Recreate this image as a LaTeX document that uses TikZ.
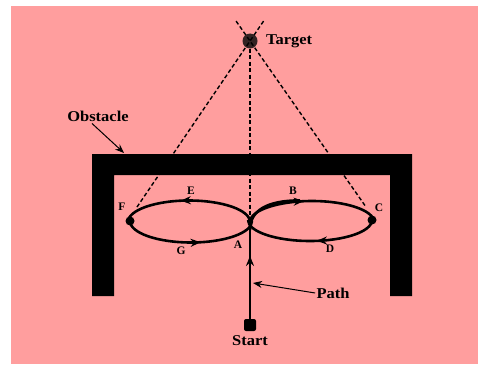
\documentclass[tikz,border=0pt]{standalone}
\usepackage{fontspec}
\setmainfont{Liberation Serif}
\usetikzlibrary{positioning,arrows.meta,decorations.markings,calc}
\definecolor{bgpink}{RGB}{255,158,158}
\definecolor{dotdark}{RGB}{50,35,35}

\begin{document}
\begin{tikzpicture}[x=1pt,y=1pt,
        lbl/.style={font=\fontsize{15}{17}\selectfont\bfseries, inner sep=1pt, xscale=1.1},
        ptlbl/.style={font=\fontsize{11.5}{13}\selectfont\bfseries, inner sep=1pt},
        sight/.style={dash pattern=on 4pt off 2.5pt, line width=1.4pt},
        route/.style={line width=2.6pt},
        pointer/.style={-{Stealth[length=9pt,width=7pt]}, line width=1pt},
        midarrow/.style={decoration={markings, mark=at position #1 with {\arrow{Stealth[length=10pt,width=8pt]}}}, postaction=decorate}
    ]
        % background
        \fill[white] (0,0) rectangle (478,365);
        \fill[bgpink] (11,1) rectangle (478,359);
        \useasboundingbox (0,0) rectangle (478,365);

        % obstacle
        \fill[black] (92,69) -- (92,211) -- (412,211) -- (412,69) -- (390,69)
            -- (390,190) -- (114,190) -- (114,69) -- cycle;

        % points
        \node[circle, fill=dotdark, minimum size=15pt, inner sep=0pt] (target) at (250,324) {};
        \node[lbl, right=7pt of target] (tlbl) {Target};
        \node[circle, fill=black, minimum size=9pt, inner sep=0pt] (fdot) at (130,144) {};
        \node[circle, fill=black, minimum size=9pt, inner sep=0pt] (cdot) at (372,145) {};
        \node[rectangle, rounded corners=2pt, fill=black, minimum size=12pt, inner sep=0pt] (start) at (250,40) {};
        \node[lbl, below=3pt of start] (slbl) {Start};
        \coordinate (apt) at (250,143);
        \coordinate (ftip) at (137,158);
        \coordinate (ctip) at (366,158);
        \coordinate (atip) at (250,147);

        % lines of sight
        \draw[sight] ($(ftip)!1.12!(target)$) -- (ftip);
        \draw[sight] ($(ctip)!1.12!(target)$) -- (ctip);
        \draw[sight] (target) -- (atip);

        % figure-eight path
        \draw[route, midarrow=0.56] (apt) arc[start angle=0, end angle=180, x radius=61, y radius=21.5];
        \draw[route, midarrow=0.57] (fdot.center) arc[start angle=180, end angle=360, x radius=61, y radius=21.5];
        \draw[route, midarrow=0.44] (apt) arc[start angle=180, end angle=0, x radius=62, y radius=21];
        \draw[route, midarrow=0.45] (cdot.center) arc[start angle=360, end angle=180, x radius=62, y radius=21];
        \draw[route, midarrow=0.7] (start) -- (250,136);
        \draw[route] (250,135) .. controls (250,154) and (266,164.6) .. (300,164.6);

        % point labels
        \node[ptlbl] (e) at (191,174) {E};
        \node[ptlbl] (b) at (293,174) {B};
        \node[ptlbl] (f) at (122,158) {F};
        \node[ptlbl] (c) at (379,157) {C};
        \node[ptlbl] (g) at (181,114) {G};
        \node[ptlbl] (a) at (238,120) {A};
        \node[ptlbl] (d) at (330,116) {D};

        % annotations
        \node[lbl] (olbl) at (98,249) {Obstacle};
        \coordinate (otip) at (124,212);
        \draw[pointer] (olbl.south) ++(-6pt,-1pt) -- (otip);
        \node[lbl] (plbl) at (333,72) {Path};
        \coordinate (ptip) at (253,82);
        \draw[pointer] (plbl.west) -- (ptip);
    \end{tikzpicture}
\end{document}
